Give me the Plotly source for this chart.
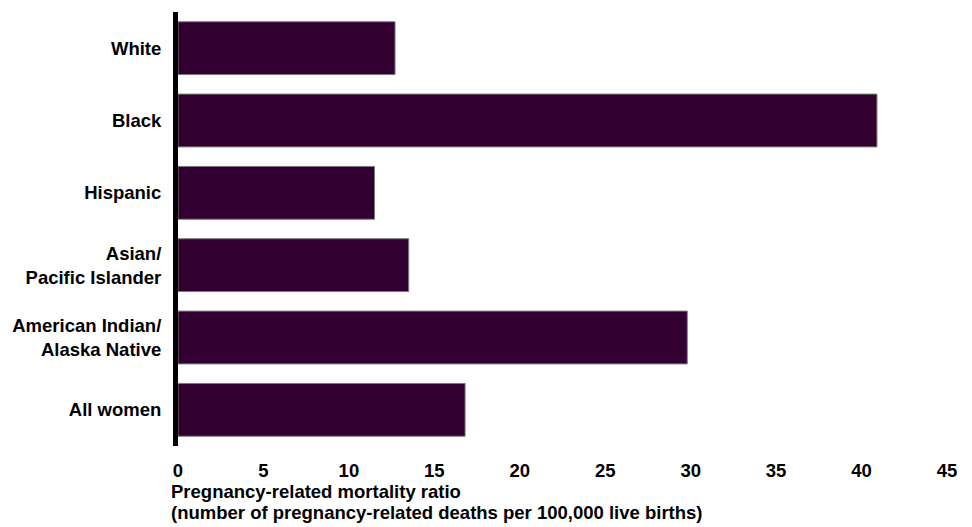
import plotly.graph_objects as go

categories = ["White", "Black", "Hispanic", "Asian/<br>Pacific Islander",
              "American Indian/<br>Alaska Native", "All women"]
values = [12.7, 40.9, 11.5, 13.5, 29.8, 16.8]
x_ticks = [0, 5, 10, 15, 20, 25, 30, 35, 40, 45]
title_lines = ["Pregnancy-related mortality ratio",
               "(number of pregnancy-related deaths per 100,000 live births)"]

FONT = "Liberation Sans, Arial, sans-serif"

fig = go.Figure(go.Bar(
    x=values, y=categories, orientation="h",
    marker=dict(color="#320030", line=dict(color="#7a7a7a", width=1)),
    width=0.73,
))

annotations = []
for i, line in enumerate(title_lines):
    annotations.append(dict(
        xref="paper", yref="paper", x=0, y=0, xanchor="left", yanchor="middle",
        xshift=-9, yshift=-45 - 21 * i, align="left", showarrow=False,
        text="<b>" + line + "</b>",
        font=dict(family=FONT, size=18.5, color="black"),
    ))

# page body adds an 8px margin, so the figure is 8px smaller on each axis
fig.update_layout(
    width=964, height=519,
    margin=dict(l=165, r=25, t=4, b=81),
    paper_bgcolor="white", plot_bgcolor="white",
    showlegend=False,
    font=dict(family=FONT, size=18.5, color="black"),
    xaxis=dict(range=[0, 45], tickvals=x_ticks, showgrid=False, zeroline=False,
               showline=False, ticks="", ticklabelstandoff=11,
               tickfont=dict(family=FONT, size=18.5, weight="bold")),
    yaxis=dict(autorange="reversed", showgrid=False, zeroline=False,
               showline=True, linewidth=5, linecolor="black", ticks="",
               ticklabelstandoff=8,
               tickfont=dict(family=FONT, size=18.5, weight="bold")),
    annotations=annotations,
)

fig.write_html("out.html")
